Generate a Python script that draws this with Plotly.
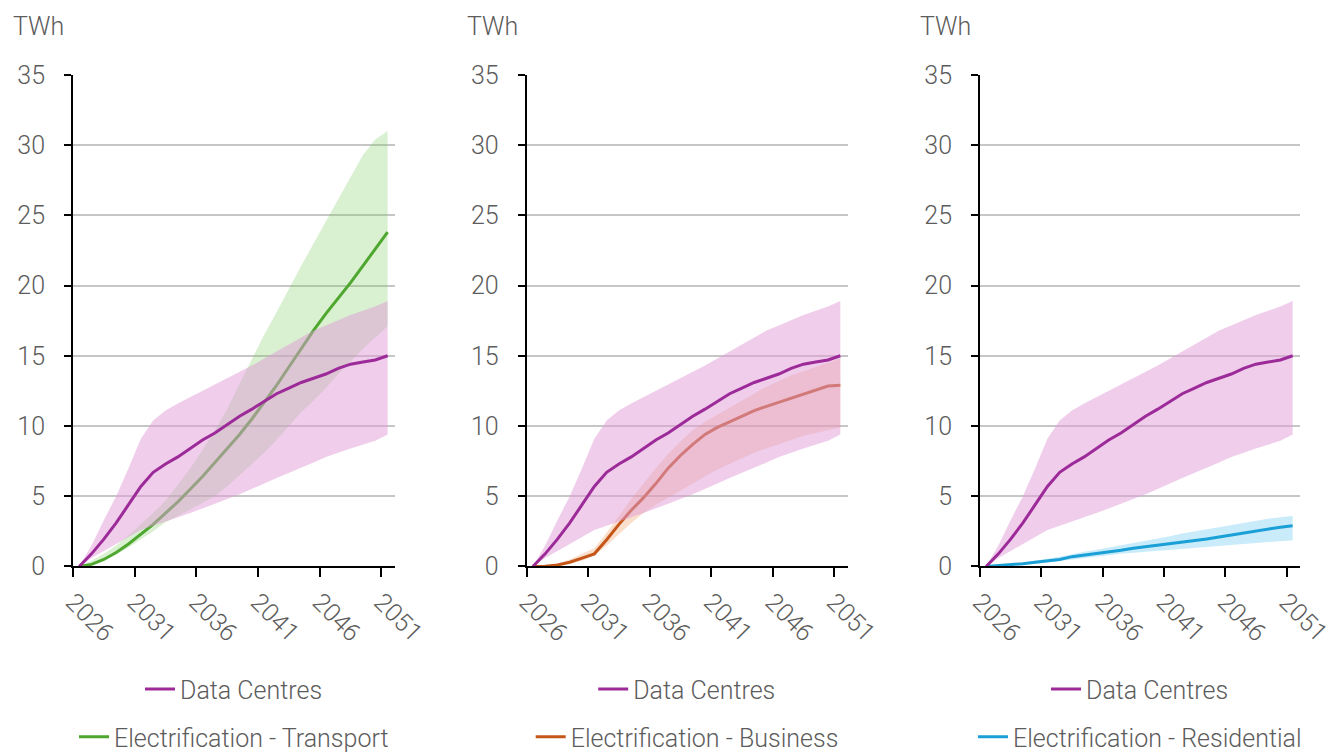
import plotly.graph_objects as go

years = list(range(2026, 2052))

dc_mid = [0, 0.9, 1.95, 3.1, 4.4, 5.7, 6.7, 7.3, 7.8, 8.4, 9.0, 9.5, 10.1, 10.7, 11.2, 11.75,
          12.3, 12.7, 13.1, 13.4, 13.7, 14.1, 14.4, 14.55, 14.7, 15.0]
dc_low = [0, 0.6, 1.1, 1.6, 2.1, 2.6, 2.9, 3.2, 3.5, 3.8, 4.1, 4.45, 4.8, 5.15, 5.5, 5.9,
          6.3, 6.7, 7.05, 7.4, 7.8, 8.1, 8.4, 8.7, 8.95, 9.4]
dc_high = [0, 1.5, 3.3, 5.0, 7.0, 9.1, 10.4, 11.1, 11.6, 12.05, 12.5, 12.9, 13.35, 13.8, 14.3, 14.8,
           15.3, 15.8, 16.3, 16.8, 17.15, 17.55, 17.9, 18.2, 18.5, 18.9]

tr_mid = [0, 0.15, 0.5, 1.0, 1.6, 2.3, 3.0, 3.8, 4.6, 5.5, 6.4, 7.4, 8.4, 9.4, 10.5, 11.7,
          12.9, 14.2, 15.5, 16.8, 18.0, 19.1, 20.2, 21.4, 22.6, 23.8]
tr_low = [0, 0.15, 0.45, 0.85, 1.35, 1.9, 2.5, 3.15, 3.6, 4.05, 4.5, 5.0, 5.7, 6.5, 7.3, 8.1,
          9.0, 10.0, 11.0, 11.8, 12.7, 13.7, 14.6, 15.5, 16.3, 17.1]
tr_high = [0, 0.4, 0.9, 1.5, 2.2, 3.0, 3.8, 4.7, 5.8, 7.0, 8.3, 9.7, 11.2, 13.0, 14.8, 16.5,
           18.1, 19.8, 21.4, 23.0, 24.6, 26.2, 27.8, 29.3, 30.4, 31.0]

bu_mid = [0, 0.02, 0.1, 0.3, 0.6, 0.9, 1.9, 3.0, 4.0, 4.9, 5.9, 7.0, 7.9, 8.7, 9.4, 9.9,
          10.3, 10.7, 11.1, 11.4, 11.7, 12.0, 12.3, 12.55, 12.85, 12.9]
bu_low = [0, 0.01, 0.05, 0.2, 0.4, 0.8, 1.5, 2.3, 3.1, 3.8, 4.4, 4.9, 5.4, 5.9, 6.4, 6.9,
          7.3, 7.7, 8.1, 8.4, 8.7, 9.0, 9.3, 9.5, 9.7, 9.9]
bu_high = [0, 0.05, 0.2, 0.5, 0.9, 1.3, 2.4, 3.6, 4.8, 5.9, 7.0, 8.0, 8.9, 9.7, 10.3, 10.8,
           11.3, 11.8, 12.3, 12.8, 13.2, 13.6, 13.9, 14.2, 14.5, 14.8]

re_mid = [0, 0.05, 0.12, 0.2, 0.3, 0.4, 0.5, 0.7, 0.8, 0.9, 1.0, 1.15, 1.3, 1.4, 1.5, 1.6,
          1.75, 1.85, 1.95, 2.1, 2.25, 2.4, 2.55, 2.7, 2.8, 2.9]
re_low = [0, 0.03, 0.08, 0.14, 0.2, 0.27, 0.35, 0.5, 0.6, 0.7, 0.8, 0.9, 0.98, 1.05, 1.12, 1.2,
          1.28, 1.35, 1.42, 1.5, 1.57, 1.63, 1.7, 1.75, 1.8, 1.87]
re_high = [0, 0.07, 0.15, 0.28, 0.4, 0.55, 0.7, 0.9, 1.05, 1.2, 1.35, 1.5, 1.7, 1.85, 2.0, 2.15,
           2.35, 2.5, 2.65, 2.85, 3.0, 3.15, 3.3, 3.4, 3.5, 3.6]

x_tick_vals = [2025.5, 2030.5, 2035.5, 2040.5, 2045.5, 2050.5]
x_tick_text = ["2026", "2031", "2036", "2041", "2046", "2051"]
y_tick_vals = [0, 5, 10, 15, 20, 25, 30, 35]

dc_name = "Data Centres"
other_names = ["Electrification - Transport", "Electrification - Business", "Electrification - Residential"]

DC_LINE = "#9C2A98"
DC_BAND = "rgba(223,155,215,0.5)"
other_lines = ["#4EA72E", "#C4561A", "#1AA0D6"]
other_bands = ["rgba(120,200,90,0.28)", "rgba(240,150,90,0.30)", "rgba(80,190,235,0.30)"]
other_data = [(tr_mid, tr_low, tr_high), (bu_mid, bu_low, bu_high), (re_mid, re_low, re_high)]

W, H = 1337, 760
REF_H = 752


def px(xr):
    return xr / W


def py(yr):
    return 1 - yr / REF_H


x_domains = [(px(73), px(395)), (px(526.7), px(847.7)), (px(980), px(1300))]
y_domain = (py(568), py(75))

FONT = "Roboto, 'Liberation Sans', Arial, sans-serif"
TXT = "#5c5c5c"
FS = 25

fig = go.Figure()

band_x = years + years[::-1]

for i in range(3):
    xa = "x" if i == 0 else f"x{i+1}"
    ya = "y" if i == 0 else f"y{i+1}"
    mid, low, high = other_data[i]
    leg_dc = "legend" if i == 0 else f"legend{2*i+1}"
    leg_other = f"legend{2*i+2}"
    fig.add_trace(go.Scatter(x=band_x, y=high + low[::-1], fill="toself", fillcolor=other_bands[i],
                             line=dict(width=0), mode="lines", hoverinfo="skip", showlegend=False,
                             xaxis=xa, yaxis=ya))
    fig.add_trace(go.Scatter(x=years, y=mid, mode="lines", name=other_names[i],
                             line=dict(color=other_lines[i], width=3),
                             legend=leg_other, xaxis=xa, yaxis=ya))
    fig.add_trace(go.Scatter(x=band_x, y=dc_high + dc_low[::-1], fill="toself", fillcolor=DC_BAND,
                             line=dict(width=0), mode="lines", hoverinfo="skip", showlegend=False,
                             xaxis=xa, yaxis=ya))
    fig.add_trace(go.Scatter(x=years, y=dc_mid, mode="lines", name=dc_name,
                             line=dict(color=DC_LINE, width=3),
                             legend=leg_dc, xaxis=xa, yaxis=ya))

font_main = dict(family=FONT, size=FS, color=TXT, weight=300)

layout = dict(
    width=W, height=H,
    margin=dict(l=0, r=0, t=0, b=0),
    paper_bgcolor="white", plot_bgcolor="white",
    font=font_main,
    showlegend=True,
    annotations=[],
)

for i in range(3):
    xk = "xaxis" if i == 0 else f"xaxis{i+1}"
    yk = "yaxis" if i == 0 else f"yaxis{i+1}"
    ya = "y" if i == 0 else f"y{i+1}"
    xa = "x" if i == 0 else f"x{i+1}"
    layout[xk] = dict(domain=list(x_domains[i]), anchor=ya, range=[2025.5, 2051.6],
                      tickmode="array", tickvals=x_tick_vals, ticktext=x_tick_text,
                      tickangle=45, ticks="outside", ticklen=9, tickwidth=2, tickcolor="black",
                      showline=True, linecolor="black", linewidth=2, showgrid=False, zeroline=False,
                      tickfont=font_main, automargin=False)
    layout[yk] = dict(domain=list(y_domain), anchor=xa, range=[0, 35],
                      tickmode="array", tickvals=y_tick_vals,
                      ticks="outside", ticklen=7, tickwidth=2, tickcolor="black",
                      showline=True, linecolor="black", linewidth=2,
                      showgrid=True, gridcolor="#C6C6C6", gridwidth=2, zeroline=False,
                      tickfont=font_main, ticklabelstandoff=14,
                      automargin=False)
    cx = (x_domains[i][0] + x_domains[i][1]) / 2
    leg_dc = "legend" if i == 0 else f"legend{2*i+1}"
    leg_other = f"legend{2*i+2}"
    for lk, yy in ((leg_dc, py(691)), (leg_other, py(739))):
        layout[lk] = dict(x=cx, y=yy, xanchor="center", yanchor="middle", orientation="h",
                          bgcolor="rgba(0,0,0,0)", font=font_main, itemwidth=30)
    layout["annotations"].append(dict(text="TWh", xref="paper", yref="paper",
                                      x=px(x_domains[i][0] * W - 62), y=py(27),
                                      xanchor="left", yanchor="middle", showarrow=False,
                                      font=font_main))

fig.update_layout(**layout)
fig.write_html(
    "out.html",
    config={"displayModeBar": False, "staticPlot": True},
    post_script=(
        "document.documentElement.style.margin='0';"
        "document.documentElement.style.overflow='hidden';"
        "document.body.style.margin='0';"
        "document.body.style.overflow='hidden';"
        "var gd=document.querySelector('.plotly-graph-div');"
        "gd.style.position='fixed';gd.style.left='0px';gd.style.top='0px';"
    ),
)
